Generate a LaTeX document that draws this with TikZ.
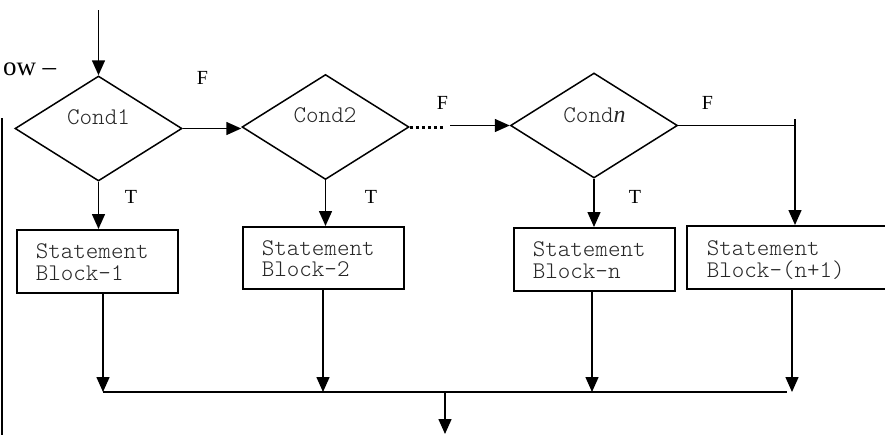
\documentclass[tikz,border=0pt]{standalone}
\usepackage{fontspec}
\setmainfont{Liberation Serif}
\usetikzlibrary{arrows.meta,shapes.geometric}
\newcommand\mymono{\fontfamily{lmtt}\fontseries{l}\selectfont}
\begin{document}
\begin{tikzpicture}[x=1pt,y=-1pt,
  line width=1.5pt,
  arr/.style={-{Triangle[length=15pt,width=13pt]}},
  cond/.style={draw,diamond,minimum width=167pt,minimum height=105pt,inner sep=0pt},
  sblock/.style={draw,rectangle,anchor=north west,inner sep=0pt,minimum height=63pt},
  mtext/.style={font=\fontsize{23.9}{27}\mymono,text=black!85,inner sep=0pt},
  btext/.style={font=\fontsize{23.9}{21.5}\mymono,text=black!85,inner sep=0pt,align=left,anchor=base west},
  lab/.style={font=\fontsize{20}{23}\selectfont,inner sep=0pt},
  dotline/.style={line width=3pt,dash pattern=on 3pt off 3pt}]
\useasboundingbox (0,0) rectangle (885,434);
\clip (0,0) rectangle (885,434);

% heading fragment
\node[font=\fontsize{27}{30}\selectfont,anchor=base east,inner sep=0pt] (flow) at (57,75) {ow --};
\coordinate (l1) at (2,118);
\coordinate (l2) at (2,440);
\draw[line width=2pt] (l1) -- (l2);

% conditions
\node[cond] (c1) at (98.5,128.5) {};
\node[cond] (c2) at (325.5,127) {};
\node[cond] (cn) at (594,125.5) {};
\node[mtext,anchor=base] (c1t) at (98.5,124.5) {Cond1};
\node[mtext,anchor=base] (c2t) at (325,122.5) {Cond2};
\node[mtext,anchor=base] (cnt) at (594.5,122) {Cond\textit{\rmfamily\mdseries n}};

% blocks
\node[sblock,minimum width=161pt] (b1) at (16,229) {};
\node[sblock,minimum width=161pt,minimum height=62pt] (b2) at (242,226) {};
\node[sblock,minimum width=161pt] (bn) at (513,227) {};
\node[sblock,minimum width=240pt] (bn1) at (686,225) {};
\node[btext] (b1t) at (35,280) {Statement\\Block-1};
\node[btext] (b2t) at (261,276.5) {Statement\\Block-2};
\node[btext] (bnt) at (532,278) {Statement\\Block-n};
\node[btext] (bn1t) at (706,277) {Statement\\Block-(n+1)};

% labels
\node[lab] (f1) at (202.5,78) {F};
\node[lab] (f2) at (442.5,103) {F};
\node[lab] (f3) at (707.5,103) {F};
\node[lab] (t1) at (131,197) {T};
\node[lab] (t2) at (371,196.5) {T};
\node[lab] (tn) at (635,196.5) {T};

% connectors
\coordinate (top) at (98.5,10);
\draw[arr] (top) -- (c1.north);
\draw[arr] (c1.east) -- (c1.east -| c2.west);
\coordinate (d1) at (443,127);
\draw[dotline] (c2.east) -- (d1);
\coordinate (d2) at (450,125.5);
\draw[arr] (d2) -- (cn.west);
\coordinate (k) at (795,119);
\draw (cn.east) -- (cn.east -| k);
\draw[arr] (k) -- (k |- bn1.north);

\draw[arr] (c1.south) -- (c1.south |- b1.north);
\draw[arr] (c2.south) -- (c2.south |- b2.north);
\draw[arr] (cn.south) -- (cn.south |- bn.north);

\coordinate (j1) at (103,392);
\coordinate (j2) at (323,392);
\coordinate (jn) at (592,392);
\coordinate (jn1) at (792,392);
\coordinate (jend) at (787,392);
\draw[arr] (b1.south -| j1) -- (j1);
\draw[arr] (b2.south -| j2) -- (j2);
\draw[arr] (bn.south -| jn) -- (jn);
\draw[arr] (bn1.south -| jn1) -- (jn1);
\draw (j1) -- (jend);
\coordinate (o1) at (445,392);
\coordinate (o2) at (445,434);
\draw[arr] (o1) -- (o2);
\end{tikzpicture}
\end{document}
